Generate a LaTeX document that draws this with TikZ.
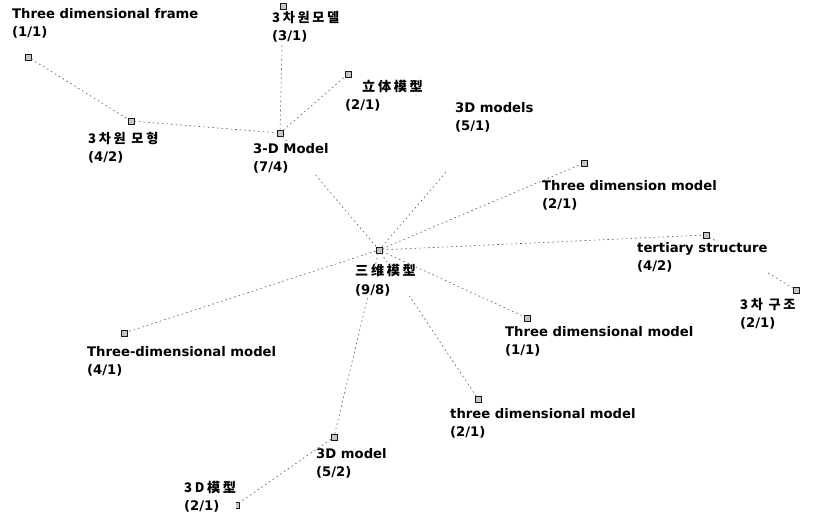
\documentclass[tikz,border=0pt]{standalone}
\usepackage{fontspec}
\setmainfont{DejaVu Sans}
\newfontfamily\cjk[LetterSpace=20]{Noto Sans CJK KR}
\begin{document}
\begin{tikzpicture}[x=1pt,y=-1pt,
  term/.style={anchor=north west,align=left,inner sep=0pt,fill=white,
    font=\fontsize{13.2}{18.5}\selectfont\bfseries},
  dotmark/.style={draw=black!90,fill=gray!45,line width=0.6pt,
    minimum size=6pt,inner sep=0pt},
  link/.style={draw=black!65,line width=0.6pt,dash pattern=on 1.6pt off 3pt}]
\useasboundingbox (0,0) rectangle (819,520);

% markers
\node[dotmark] (mframe) at (28,57) {};
\node[dotmark] (mmohyeong) at (131,121) {};
\node[dotmark] (m3dm) at (280,133) {};
\node[dotmark] (mmodel) at (283,6) {};
\node[dotmark] (mritai) at (348,74) {};
\node[dotmark] (mc) at (379,250) {};
\node[dotmark] (mdim) at (584,163) {};
\node[dotmark] (mter) at (706,235) {};
\node[dotmark] (mgujo) at (796,290) {};
\node[dotmark] (mm11) at (527,318) {};
\node[dotmark] (mm21) at (478,399) {};
\node[dotmark] (mhy) at (124,333) {};
\node[dotmark] (m52) at (334,437) {};
\node[dotmark] (mmx) at (236,505) {};
\coordinate (e3dms) at (447,171);

% connectors
\draw[link] (mframe) -- (mmohyeong);
\draw[link] (mmohyeong) -- (m3dm);
\draw[link] (m3dm) -- (mmodel);
\draw[link] (m3dm) -- (mritai);
\draw[link] (m3dm) -- (mc);
\draw[link] (mc) -- (e3dms);
\draw[link] (mc) -- (mdim);
\draw[link] (mc) -- (mter);
\draw[link] (mter) -- (mgujo);
\draw[link] (mc) -- (mm11);
\draw[link] (mc) -- (mm21);
\draw[link] (mc) -- (mhy);
\draw[link] (mc) -- (m52);
\draw[link] (m52) -- (mmx);

% keyword labels
\node[term] (lframe) at (12,8)   {Three dimensional frame\\(1/1)};
\node[term] (lmohyeong) at (88,132) {{\cjk 3차원 모형}\\(4/2)};
\node[term] (l3dm) at (253,143) {3-D Model\\(7/4)};
\node[term] (lmodel) at (272,11) {{\cjk 3차원모델}\\(3/1)};
\node[term] (lritai) at (345,80) {\hspace{17pt}{\cjk 立体模型}\\(2/1)};
\node[term] (l3dms) at (455,102) {3D models\\(5/1)};
\node[term] (ldim) at (542,180) {Three dimension model\\(2/1)};
\node[term] (lter) at (637,242) {tertiary structure\\(4/2)};
\node[term] (lgujo) at (740,298) {{\cjk 3차 구조}\\(2/1)};
\node[term] (lc) at (355,264) {{\cjk 三维模型}\\(9/8)};
\node[term] (lm11) at (505,326) {Three dimensional model\\(1/1)};
\node[term] (lm21) at (450,408) {three dimensional model\\(2/1)};
\node[term] (lhy) at (87,346) {Three-dimensional model\\(4/1)};
\node[term] (l52) at (316,448) {3D model\\(5/2)};
\node[term] (lmx) at (184,481) {{\cjk 3D模型}\\(2/1)};
\end{tikzpicture}
\end{document}
